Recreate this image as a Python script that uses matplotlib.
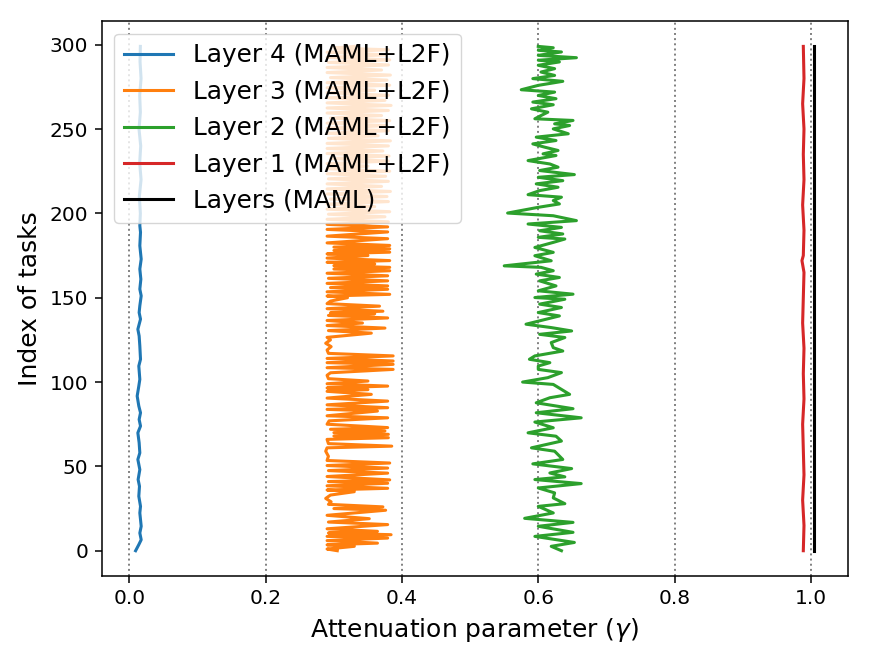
import matplotlib
matplotlib.use('Agg')
import matplotlib.pyplot as plt

# values: task index -> attenuation parameter (gamma)
layer4_task = [0, 3.6, 6.5, 10.5, 14.5, 22.4, 26.3, 32.3, 38.2, 42.2, 48.1, 54.1, 58, 64, 69.9, 73.9,
               77.8, 81.8, 85.8, 91.7, 97.6, 101.6, 109.5, 113.5, 121.4, 127.3, 131.3, 137.3, 141.2,
               145.2, 151.1, 155.1, 161, 167, 172.9, 180.8, 188.8, 192.7, 200, 210, 220, 230, 240,
               250, 260, 270, 280, 290, 299]
layer4_gamma = [0.009, 0.0137, 0.0172, 0.0152, 0.0172, 0.0152, 0.0162, 0.0137, 0.0147, 0.0127, 0.0152,
                0.0123, 0.0152, 0.0142, 0.0123, 0.0162, 0.0142, 0.0162, 0.0137, 0.0113, 0.0137, 0.0152,
                0.0137, 0.0162, 0.0152, 0.0142, 0.0123, 0.0162, 0.0142, 0.0152, 0.0172, 0.0152, 0.0167,
                0.0152, 0.0172, 0.0152, 0.0162, 0.0152, 0.016, 0.0145, 0.017, 0.015, 0.0165, 0.014,
                0.016, 0.015, 0.017, 0.0155, 0.016]

layer3_task = [0, 1, 2.6, 3.5, 4.5, 6, 7.5, 8.5, 9.5, 10.5, 11.5, 13, 15.5, 17, 19, 21, 24, 25, 26, 27.5,
               29, 31, 33, 35, 36, 37, 38.5, 40, 41, 42, 44, 46, 47.5, 49, 50.5, 52, 53.5, 56, 59, 61,
               62, 63.5, 66, 67, 68, 69, 70, 71, 72, 73, 75, 77, 78.8, 80, 82.8, 83.8, 84.8, 86.5,
               88.7, 90.5, 92.7, 94.5, 95.5, 96.5, 97.6, 99, 100.6, 102, 104, 105.5, 107.5, 108.5,
               110.5, 111.5, 112.5, 114, 115.5, 117, 119, 121, 123, 125, 126.5, 129, 130.5, 132,
               133.5, 135, 136.5, 138, 139.5, 140.5, 141, 142, 143.5, 145, 146.5, 148, 150, 151, 152,
               153.5, 155, 156, 157, 158.5, 160, 161.5, 163, 164.5, 166, 167, 168, 169, 170, 171, 172,
               173.5, 175, 176, 177, 178, 179, 180, 181, 182.5, 185, 186.5, 189, 190.5, 192, 193.5,
               195, 196.5, 198, 199.5, 201, 202.5, 204, 205.5, 207, 208.5, 210, 211.5, 213, 214.5,
               216, 217.5, 219, 220.5, 222, 223.5, 225, 226.5, 228, 229.5, 231, 232.5, 234, 235.5,
               237, 238.5, 240, 241.5, 243, 244.5, 246, 247.5, 249, 250.5, 252, 253.5, 255, 256.5,
               258, 259.5, 261, 262.5, 264, 265.5, 267, 268.5, 270, 271.5, 273, 274.5, 276, 277.5,
               279, 280.5, 282, 283.5, 285, 286.5, 288, 289.5, 291, 292.5, 294, 295.5, 297, 298, 299]
layer3_gamma = [0.305, 0.29, 0.33, 0.29, 0.364, 0.29, 0.379, 0.29, 0.384, 0.292, 0.364, 0.29, 0.379,
                0.292, 0.352, 0.29, 0.376, 0.30, 0.372, 0.292, 0.296, 0.288, 0.295, 0.33, 0.29, 0.379,
                0.29, 0.379, 0.292, 0.382, 0.29, 0.379, 0.292, 0.379, 0.29, 0.382, 0.29, 0.292, 0.288,
                0.29, 0.385, 0.292, 0.29, 0.38, 0.30, 0.38, 0.30, 0.375, 0.295, 0.379, 0.29, 0.293,
                0.379, 0.29, 0.364, 0.29, 0.379, 0.29, 0.379, 0.29, 0.355, 0.29, 0.35, 0.29, 0.379,
                0.29, 0.35, 0.292, 0.29, 0.295, 0.387, 0.29, 0.387, 0.29, 0.387, 0.29, 0.387, 0.292,
                0.29, 0.296, 0.288, 0.295, 0.29, 0.355, 0.292, 0.375, 0.29, 0.342, 0.29, 0.379, 0.292,
                0.36, 0.295, 0.372, 0.29, 0.367, 0.29, 0.295, 0.32, 0.29, 0.382, 0.29, 0.379, 0.295,
                0.379, 0.29, 0.379, 0.292, 0.379, 0.29, 0.382, 0.30, 0.382, 0.30, 0.36, 0.29, 0.382,
                0.29, 0.35, 0.29, 0.382, 0.30, 0.382, 0.30, 0.382, 0.29, 0.379, 0.29, 0.379, 0.29,
                0.379, 0.29, 0.38, 0.29, 0.375, 0.292, 0.382, 0.29, 0.36, 0.29, 0.38, 0.295, 0.378,
                0.29, 0.383, 0.29, 0.37, 0.29, 0.38, 0.292, 0.376, 0.29, 0.382, 0.29, 0.35, 0.29, 0.38,
                0.295, 0.381, 0.29, 0.372, 0.29, 0.38, 0.29, 0.383, 0.292, 0.365, 0.29, 0.38, 0.29,
                0.378, 0.29, 0.382, 0.295, 0.37, 0.29, 0.38, 0.29, 0.384, 0.29, 0.375, 0.292, 0.38,
                0.29, 0.36, 0.29, 0.382, 0.29, 0.378, 0.295, 0.383, 0.29, 0.37, 0.29, 0.38, 0.292,
                0.382, 0.29, 0.376, 0.29, 0.38, 0.30, 0.33]

layer2_task = [0, 2.6, 4.9, 8.5, 10.9, 14.5, 16.8, 19.2, 22.4, 26.3, 27.9, 31.3, 34.3, 37.2, 39.8, 42.2,
               43.8, 46.1, 48.7, 51.5, 54.1, 59, 61, 65, 67.9, 69.9, 72.9, 76.3, 78.8, 81.8, 84.2,
               87.7, 90.7, 92.7, 98.6, 100, 102.6, 105.6, 107.5, 109.5, 111.5, 113.5, 115.5, 118.4,
               120.4, 123.4, 126.4, 128.3, 130.3, 132.3, 134.3, 136.3, 139.2, 141.2, 144.2, 146.2,
               149.1, 150.1, 152.1, 154.1, 157, 160, 162, 164, 166, 168, 168.9, 171.9, 174.9, 176.9,
               179.8, 182.8, 184.8, 185.8, 187.8, 189.7, 191.7, 193.7, 195.7, 198.6, 200.2, 203.6,
               205.6, 207.6, 209.6, 211.1, 213.5, 215.5, 217.5, 219.4, 221.4, 223, 225.4, 227.4,
               229.3, 231.3, 234.3, 235.3, 237.3, 239.3, 241.2, 243.2, 245.2, 247.2, 250.1, 252.1,
               253.1, 255.1, 256.1, 258, 260, 262, 264.4, 266, 268, 269.9, 271.9, 273.3, 275.9, 278.3,
               279.9, 281.8, 283.8, 285.8, 287.8, 289.8, 290.8, 292.3, 293.7, 295.7, 296.7, 298.2, 299]
layer2_gamma = [0.634, 0.619, 0.653, 0.595, 0.651, 0.600, 0.651, 0.580, 0.622, 0.600, 0.639, 0.622,
                0.624, 0.600, 0.663, 0.595, 0.639, 0.617, 0.649, 0.592, 0.636, 0.624, 0.590, 0.634,
                0.626, 0.585, 0.622, 0.595, 0.663, 0.597, 0.651, 0.597, 0.617, 0.646, 0.622, 0.577,
                0.614, 0.634, 0.600, 0.600, 0.617, 0.587, 0.595, 0.636, 0.622, 0.619, 0.639, 0.602,
                0.649, 0.619, 0.582, 0.602, 0.631, 0.600, 0.634, 0.602, 0.639, 0.595, 0.651, 0.600,
                0.626, 0.602, 0.631, 0.597, 0.622, 0.604, 0.550, 0.619, 0.595, 0.622, 0.595, 0.622,
                0.639, 0.600, 0.636, 0.602, 0.634, 0.585, 0.656, 0.622, 0.555, 0.600, 0.631, 0.622,
                0.634, 0.585, 0.602, 0.629, 0.597, 0.636, 0.600, 0.653, 0.602, 0.629, 0.617, 0.585,
                0.626, 0.607, 0.629, 0.609, 0.592, 0.626, 0.597, 0.644, 0.622, 0.646, 0.624, 0.651,
                0.595, 0.604, 0.614, 0.590, 0.622, 0.592, 0.626, 0.600, 0.624, 0.575, 0.600, 0.636,
                0.592, 0.624, 0.604, 0.624, 0.600, 0.631, 0.600, 0.656, 0.600, 0.634, 0.600, 0.622,
                0.600]

layer1_task = [0, 15, 30, 45, 60, 75, 90, 105, 120, 135, 150, 165, 172, 175, 190, 205, 220, 235, 250,
               265, 280, 299]
layer1_gamma = [0.989, 0.990, 0.988, 0.990, 0.989, 0.988, 0.990, 0.989, 0.990, 0.988, 0.989, 0.990,
                0.987, 0.989, 0.990, 0.988, 0.990, 0.989, 0.990, 0.988, 0.990, 0.989]

maml_task = [0, 299]
maml_gamma = [1.005, 1.005]

fig = plt.figure(figsize=(8.69, 6.62), dpi=100)
ax = fig.add_axes([0.117, 0.13, 0.859, 0.838])

ax.plot(layer4_gamma, layer4_task, color='C0', lw=2.2, label='Layer 4 (MAML+L2F)')
ax.plot(layer3_gamma, layer3_task, color='C1', lw=2.2, label='Layer 3 (MAML+L2F)')
ax.plot(layer2_gamma, layer2_task, color='C2', lw=2.2, label='Layer 2 (MAML+L2F)')
ax.plot(layer1_gamma, layer1_task, color='C3', lw=2.2, label='Layer 1 (MAML+L2F)')
ax.plot(maml_gamma, maml_task, color='k', lw=2.2, label='Layers (MAML)')

ax.grid(axis='x', linestyle=':', color='gray', linewidth=1.4)
ax.set_xticks([0.0, 0.2, 0.4, 0.6, 0.8, 1.0])
ax.set_yticks([0, 50, 100, 150, 200, 250, 300])
ax.tick_params(labelsize=14.5, length=4.8, width=1.1, pad=4.8)
for spine in ax.spines.values():
    spine.set_linewidth(1.1)
ax.set_xlabel(r'Attenuation parameter ($\gamma$)', fontsize=18, labelpad=5.4)
ax.set_ylabel('Index of tasks', fontsize=18, labelpad=5.4)
ax.legend(loc='upper left', fontsize=17.8)

fig.savefig('out.png', dpi=100)
